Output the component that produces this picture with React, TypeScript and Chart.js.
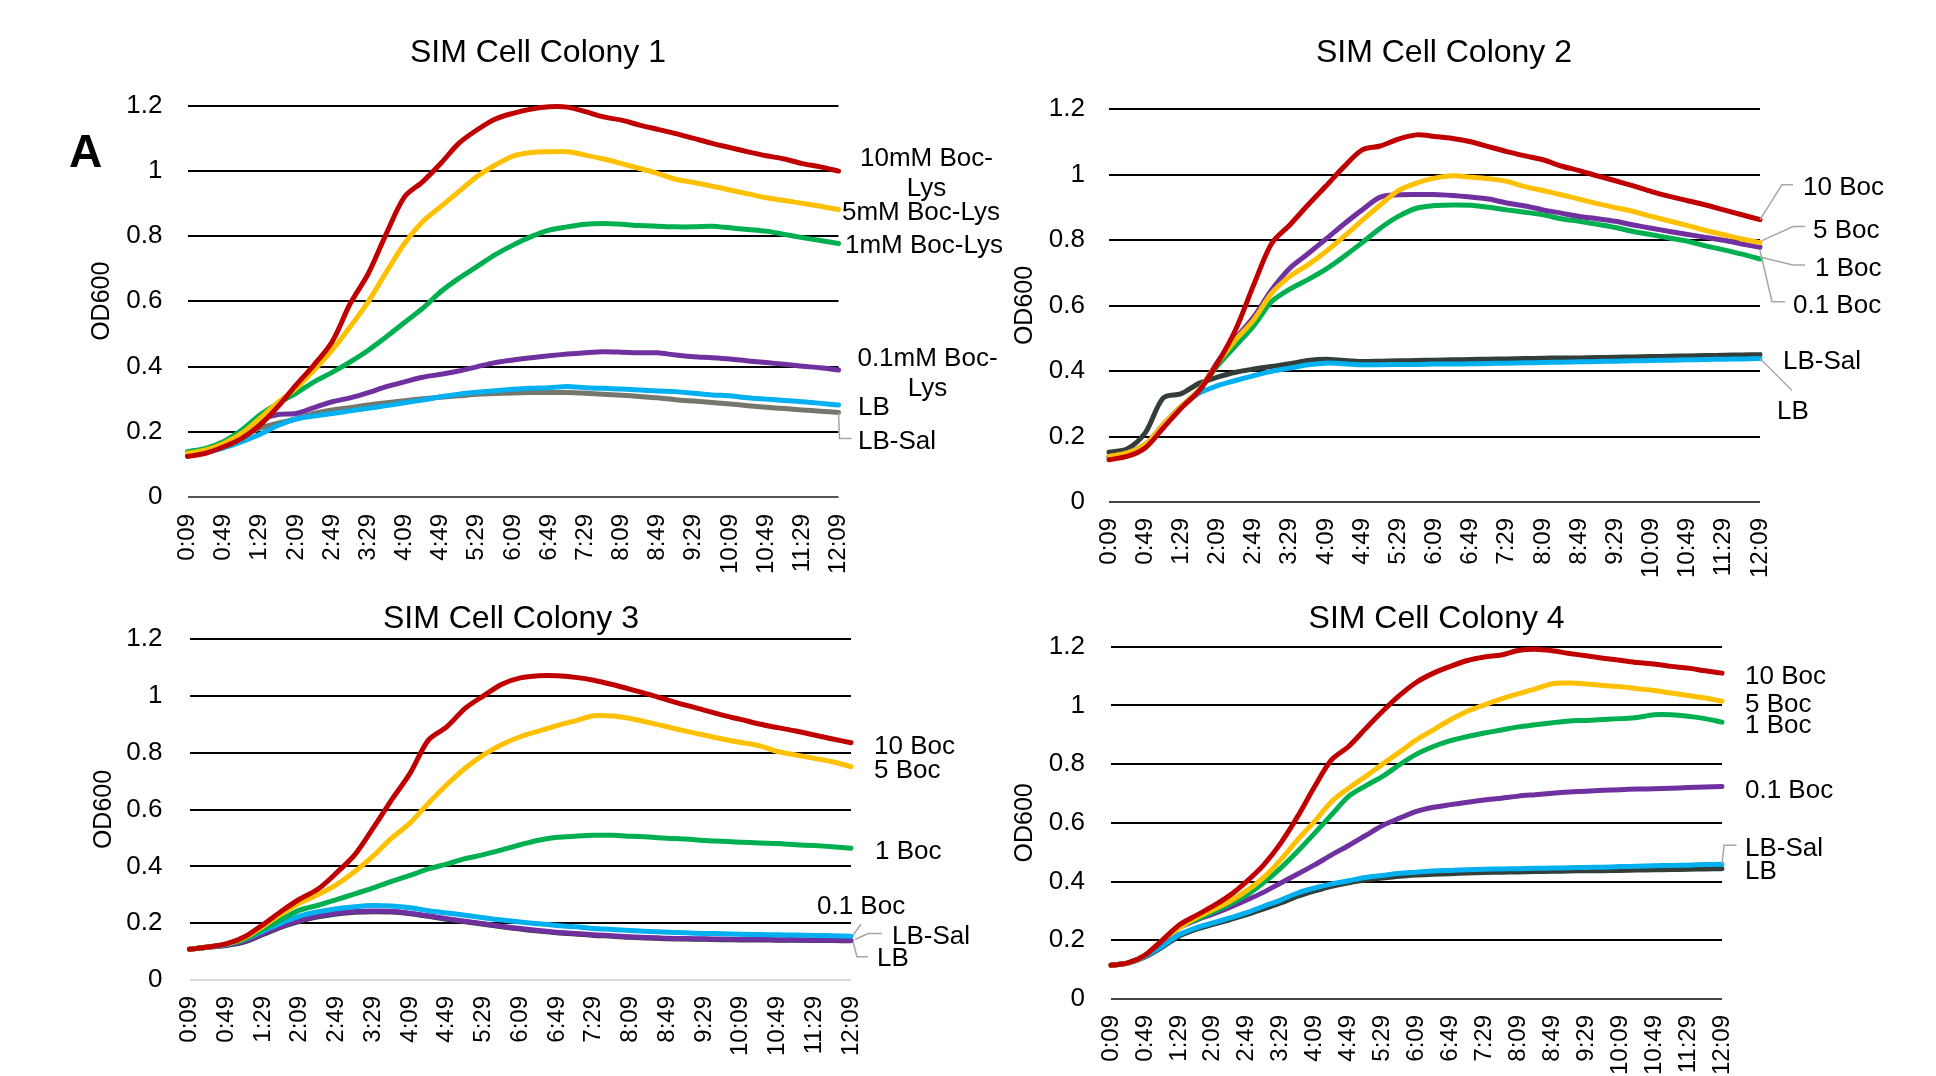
import React, { useEffect, useRef } from "react";
import { Chart, registerables } from "chart.js";

Chart.register(...registerables);

const FONT = "'Liberation Sans', Arial, sans-serif";

// time points every 20 min (labels shown every 40 min)
const TIME_LABELS = [
  "0:09", "0:29", "0:49", "1:09", "1:29", "1:49", "2:09", "2:29", "2:49", "3:09",
  "3:29", "3:49", "4:09", "4:29", "4:49", "5:09", "5:29", "5:49", "6:09", "6:29",
  "6:49", "7:09", "7:29", "7:49", "8:09", "8:29", "8:49", "9:09", "9:29", "9:49",
  "10:09", "10:29", "10:49", "11:09", "11:29", "11:49", "12:09",
];

const Y_MIN = 0;
const Y_MAX = 1.2;
const Y_STEP = 0.2;

// ---------- SIM Cell Colony 1 ----------
const C1_10MM = [0.124,0.134,0.154,0.180,0.220,0.277,0.343,0.405,0.476,0.593,0.685,0.808,0.920,0.966,1.022,1.084,1.125,1.158,1.176,1.189,1.196,1.195,1.181,1.165,1.155,1.140,1.127,1.114,1.099,1.084,1.071,1.058,1.046,1.036,1.022,1.012,0.999];
const C1_5MM = [0.134,0.144,0.164,0.195,0.241,0.290,0.333,0.389,0.450,0.522,0.599,0.690,0.777,0.844,0.890,0.936,0.982,1.017,1.045,1.056,1.058,1.058,1.048,1.036,1.022,1.007,0.992,0.974,0.964,0.953,0.941,0.929,0.917,0.909,0.900,0.891,0.881];
const C1_1MM = [0.139,0.149,0.170,0.205,0.251,0.287,0.318,0.353,0.382,0.414,0.450,0.491,0.535,0.578,0.629,0.670,0.706,0.742,0.772,0.798,0.818,0.828,0.836,0.838,0.836,0.832,0.830,0.828,0.828,0.830,0.825,0.820,0.815,0.805,0.795,0.786,0.777];
const C1_01MM = [0.131,0.141,0.164,0.200,0.236,0.253,0.256,0.274,0.292,0.304,0.320,0.338,0.353,0.367,0.376,0.386,0.399,0.412,0.420,0.427,0.433,0.438,0.442,0.445,0.444,0.442,0.442,0.435,0.430,0.427,0.423,0.417,0.412,0.407,0.401,0.396,0.389];
const C1_LB = [0.129,0.137,0.151,0.170,0.192,0.219,0.239,0.248,0.256,0.264,0.272,0.280,0.289,0.297,0.307,0.315,0.321,0.326,0.330,0.333,0.335,0.339,0.335,0.333,0.331,0.328,0.325,0.323,0.318,0.313,0.310,0.304,0.300,0.296,0.292,0.287,0.282];
const C1_LBSAL = [0.129,0.139,0.159,0.185,0.211,0.226,0.239,0.256,0.267,0.274,0.282,0.289,0.295,0.301,0.306,0.310,0.315,0.317,0.319,0.320,0.320,0.320,0.318,0.315,0.312,0.308,0.304,0.298,0.294,0.290,0.285,0.280,0.275,0.271,0.267,0.263,0.259];

// ---------- SIM Cell Colony 2 ----------
const C2_10 = [0.129,0.139,0.165,0.226,0.287,0.341,0.424,0.526,0.663,0.790,0.846,0.907,0.965,1.024,1.075,1.087,1.108,1.121,1.116,1.110,1.100,1.085,1.070,1.057,1.045,1.026,1.012,0.996,0.981,0.965,0.948,0.933,0.920,0.907,0.892,0.877,0.862];
const C2_5 = [0.139,0.150,0.175,0.236,0.292,0.343,0.424,0.495,0.556,0.638,0.689,0.724,0.765,0.811,0.860,0.907,0.951,0.974,0.989,0.996,0.992,0.987,0.979,0.963,0.951,0.938,0.925,0.911,0.899,0.887,0.872,0.858,0.844,0.829,0.816,0.803,0.792];
const C2_01 = [0.139,0.150,0.175,0.236,0.292,0.343,0.428,0.500,0.565,0.648,0.714,0.758,0.803,0.849,0.892,0.931,0.938,0.939,0.939,0.936,0.931,0.925,0.913,0.904,0.892,0.882,0.872,0.865,0.857,0.846,0.836,0.826,0.817,0.808,0.799,0.788,0.778];
const C2_1 = [0.137,0.150,0.175,0.233,0.290,0.343,0.416,0.477,0.538,0.612,0.650,0.679,0.711,0.750,0.792,0.836,0.872,0.897,0.905,0.907,0.906,0.900,0.892,0.885,0.877,0.865,0.857,0.848,0.838,0.826,0.816,0.806,0.796,0.782,0.770,0.757,0.742];
const C2_LB = [0.137,0.148,0.170,0.236,0.290,0.333,0.355,0.371,0.386,0.399,0.409,0.419,0.424,0.422,0.419,0.419,0.420,0.420,0.421,0.421,0.422,0.423,0.424,0.425,0.426,0.427,0.428,0.429,0.430,0.431,0.432,0.433,0.434,0.435,0.436,0.437,0.438];
const C2_LBSAL = [0.152,0.162,0.211,0.318,0.331,0.363,0.381,0.396,0.406,0.414,0.422,0.432,0.436,0.432,0.429,0.430,0.431,0.432,0.433,0.434,0.435,0.436,0.437,0.438,0.439,0.440,0.440,0.441,0.442,0.443,0.444,0.445,0.446,0.447,0.448,0.449,0.450];

// ---------- SIM Cell Colony 3 ----------
const C3_10 = [0.108,0.116,0.127,0.152,0.195,0.242,0.285,0.320,0.377,0.441,0.535,0.634,0.727,0.844,0.891,0.956,1.000,1.041,1.063,1.071,1.071,1.065,1.055,1.040,1.023,1.005,0.986,0.967,0.950,0.932,0.917,0.901,0.888,0.876,0.862,0.848,0.835];
const C3_5 = [0.108,0.116,0.127,0.149,0.189,0.233,0.271,0.301,0.336,0.382,0.437,0.499,0.552,0.622,0.687,0.745,0.792,0.829,0.856,0.876,0.895,0.912,0.930,0.929,0.920,0.906,0.891,0.876,0.862,0.848,0.836,0.825,0.804,0.792,0.780,0.768,0.751];
const C3_1 = [0.108,0.116,0.127,0.143,0.178,0.213,0.246,0.263,0.283,0.303,0.324,0.347,0.368,0.391,0.408,0.427,0.441,0.458,0.476,0.492,0.502,0.506,0.509,0.509,0.506,0.503,0.499,0.496,0.491,0.488,0.485,0.482,0.480,0.476,0.473,0.469,0.464];
const C3_01 = [0.108,0.116,0.125,0.143,0.172,0.201,0.225,0.240,0.251,0.258,0.262,0.260,0.254,0.244,0.236,0.228,0.219,0.211,0.204,0.198,0.192,0.187,0.181,0.178,0.174,0.171,0.168,0.166,0.164,0.163,0.161,0.160,0.159,0.158,0.157,0.156,0.154];
const C3_LBSAL = [0.108,0.116,0.123,0.137,0.163,0.189,0.209,0.225,0.235,0.241,0.243,0.242,0.235,0.226,0.216,0.207,0.198,0.189,0.181,0.174,0.168,0.164,0.159,0.156,0.152,0.150,0.147,0.146,0.145,0.144,0.143,0.143,0.142,0.142,0.140,0.140,0.139];
const C3_LB = [0.108,0.115,0.121,0.134,0.160,0.186,0.206,0.222,0.232,0.238,0.240,0.239,0.233,0.224,0.214,0.205,0.196,0.187,0.179,0.172,0.166,0.162,0.157,0.154,0.150,0.148,0.145,0.144,0.143,0.142,0.141,0.141,0.140,0.140,0.139,0.139,0.138];

// ---------- SIM Cell Colony 4 ----------
const C4_10 = [0.115,0.123,0.149,0.199,0.251,0.284,0.316,0.353,0.401,0.457,0.531,0.622,0.724,0.815,0.860,0.921,0.980,1.034,1.079,1.110,1.133,1.153,1.165,1.172,1.187,1.191,1.186,1.177,1.169,1.161,1.154,1.146,1.141,1.133,1.127,1.118,1.110];
const C4_5 = [0.115,0.123,0.149,0.199,0.242,0.276,0.304,0.333,0.369,0.414,0.474,0.543,0.605,0.673,0.718,0.758,0.800,0.841,0.883,0.917,0.951,0.980,1.002,1.022,1.040,1.056,1.074,1.076,1.073,1.068,1.064,1.057,1.051,1.042,1.034,1.025,1.014];
const C4_1 = [0.115,0.123,0.149,0.199,0.244,0.270,0.296,0.323,0.355,0.397,0.446,0.503,0.565,0.628,0.690,0.726,0.758,0.798,0.834,0.860,0.880,0.894,0.906,0.916,0.927,0.934,0.941,0.947,0.949,0.952,0.955,0.959,0.968,0.968,0.963,0.955,0.943];
const C4_01 = [0.115,0.123,0.149,0.196,0.242,0.268,0.289,0.312,0.337,0.364,0.395,0.426,0.457,0.491,0.523,0.557,0.591,0.616,0.639,0.653,0.662,0.670,0.678,0.684,0.691,0.696,0.701,0.705,0.708,0.711,0.713,0.715,0.716,0.718,0.720,0.722,0.724];
const C4_LBSAL = [0.115,0.123,0.145,0.179,0.219,0.242,0.259,0.276,0.294,0.316,0.337,0.361,0.378,0.392,0.403,0.414,0.421,0.428,0.432,0.436,0.438,0.440,0.442,0.443,0.444,0.445,0.446,0.447,0.448,0.449,0.451,0.452,0.454,0.455,0.456,0.458,0.459];
const C4_LB = [0.115,0.122,0.143,0.176,0.214,0.237,0.254,0.270,0.287,0.307,0.327,0.350,0.368,0.384,0.396,0.405,0.412,0.418,0.422,0.425,0.427,0.429,0.431,0.432,0.433,0.434,0.435,0.436,0.437,0.437,0.438,0.439,0.440,0.441,0.442,0.443,0.444];

const RED = "#C00000";
const YELLOW = "#FFC000";
const GREEN = "#00B050";
const PURPLE = "#7030A0";
const BLUE = "#00B0F0";
const GRAY = "#75766C";
const DARK = "#343E38";
const LEADER = "#A6A6A6";

type Label = {
  lines: [string, number][];
  dx: number;
  align?: "left" | "center";
  leader?: [number, number][];
};
type Series = { name: string; data: number[]; color: string; label: Label };
type Txt = { text: string; x: number; y: number; size: number; bold?: boolean; align?: "left" | "center" };

type Spec = {
  left: number; top: number; w: number; h: number;
  pad: { left: number; right: number; top: number; bottom: number };
  yw: number; xh: number; yTickPad: number; xTickPad: number; yTitlePad: number;
  zeroColor: string;
  series: Series[];
  texts: Txt[];
};

const SPECS: Spec[] = [
  {
    left: 0, top: 0, w: 1010, h: 580,
    pad: { left: 80, right: 171.5, top: 105.5, bottom: 0 },
    yw: 107.5, xh: 83, yTickPad: 25, xTickPad: 17, yTitlePad: 7, zeroColor: "#555",
    series: [
      { name: "10mM Boc-Lys", data: C1_10MM, color: RED, label: { lines: [["10mM Boc-", -14], ["Lys", 16]], dx: 88, align: "center" } },
      { name: "5mM Boc-Lys", data: C1_5MM, color: YELLOW, label: { lines: [["5mM Boc-Lys", 1.4]], dx: 3.5 } },
      { name: "1mM Boc-Lys", data: C1_1MM, color: GREEN, label: { lines: [["1mM Boc-Lys", 0.5]], dx: 6.5 } },
      { name: "0.1mM Boc-Lys", data: C1_01MM, color: PURPLE, label: { lines: [["0.1mM Boc-", -13], ["Lys", 16.5]], dx: 89, align: "center" } },
      { name: "LB", data: C1_LB, color: BLUE, label: { lines: [["LB", 1]], dx: 19.5 } },
      { name: "LB-Sal", data: C1_LBSAL, color: GRAY, label: { lines: [["LB-Sal", 27.5]], dx: 19.5, leader: [[0, 0], [1, 26], [13, 26]] } },
    ],
    texts: [
      { text: "SIM Cell Colony 1", x: 538, y: 61.5, size: 32, align: "center" },
      { text: "A", x: 69, y: 166.5, size: 46, bold: true },
    ],
  },
  {
    left: 960, top: 0, w: 976, h: 580,
    pad: { left: 50, right: 176, top: 109, bottom: 0 },
    yw: 99, xh: 78, yTickPad: 24, xTickPad: 16, yTitlePad: 0.5, zeroColor: "#444",
    series: [
      { name: "10 Boc", data: C2_10, color: RED, label: { lines: [["10 Boc", -34]], dx: 43, leader: [[0, 0], [22, -35], [33, -35]] } },
      { name: "5 Boc", data: C2_5, color: YELLOW, label: { lines: [["5 Boc", -13.6]], dx: 53, leader: [[2, -2], [33, -16], [45, -16]] } },
      { name: "0.1 Boc", data: C2_01, color: PURPLE, label: { lines: [["0.1 Boc", 56]], dx: 33, leader: [[0, 3], [12, 54.5], [25, 54.5]] } },
      { name: "1 Boc", data: C2_1, color: GREEN, label: { lines: [["1 Boc", 7.7]], dx: 55, leader: [[0, -2], [33, 6], [45, 6]] } },
      { name: "LB", data: C2_LB, color: BLUE, label: { lines: [["LB", 51.4]], dx: 17, leader: [[0, 0], [32, 32]] } },
      { name: "LB-Sal", data: C2_LBSAL, color: DARK, label: { lines: [["LB-Sal", 5.4]], dx: 23 } },
    ],
    texts: [{ text: "SIM Cell Colony 2", x: 484, y: 61.5, size: 32, align: "center" }],
  },
  {
    left: 0, top: 580, w: 1010, h: 496,
    pad: { left: 80, right: 159, top: 59, bottom: 0 },
    yw: 109.5, xh: 96, yTickPad: 27, xTickPad: 16, yTitlePad: 9, zeroColor: "#D9D9D9",
    series: [
      { name: "10 Boc", data: C3_10, color: RED, label: { lines: [["10 Boc", 2]], dx: 23 } },
      { name: "5 Boc", data: C3_5, color: YELLOW, label: { lines: [["5 Boc", 2]], dx: 23 } },
      { name: "1 Boc", data: C3_1, color: GREEN, label: { lines: [["1 Boc", 2]], dx: 24 } },
      { name: "0.1 Boc", data: C3_01, color: BLUE, label: { lines: [["0.1 Boc", -32]], dx: -34, leader: [[2, -1], [10, -12]] } },
      { name: "LB-Sal", data: C3_LBSAL, color: PURPLE, label: { lines: [["LB-Sal", -5.5]], dx: 41, leader: [[4, -1], [17, -7], [31, -7]] } },
      { name: "LB", data: C3_LB, color: DARK, label: { lines: [["LB", 16]], dx: 26, leader: [[2, 1], [6, 16], [17, 16]] } },
    ],
    texts: [{ text: "SIM Cell Colony 3", x: 511, y: 48.3, size: 32, align: "center" }],
  },
  {
    left: 960, top: 580, w: 976, h: 496,
    pad: { left: 50, right: 214, top: 66.7, bottom: 0 },
    yw: 101, xh: 77, yTickPad: 26, xTickPad: 16, yTitlePad: 0.5, zeroColor: "#444",
    series: [
      { name: "10 Boc", data: C4_10, color: RED, label: { lines: [["10 Boc", 2]], dx: 23 } },
      { name: "5 Boc", data: C4_5, color: YELLOW, label: { lines: [["5 Boc", 1.4]], dx: 23 } },
      { name: "1 Boc", data: C4_1, color: GREEN, label: { lines: [["1 Boc", 2]], dx: 23 } },
      { name: "0.1 Boc", data: C4_01, color: PURPLE, label: { lines: [["0.1 Boc", 2]], dx: 23 } },
      { name: "LB-Sal", data: C4_LBSAL, color: BLUE, label: { lines: [["LB-Sal", -18]], dx: 23, leader: [[0, 0], [2, -19], [14.6, -19]] } },
      { name: "LB", data: C4_LB, color: DARK, label: { lines: [["LB", 1]], dx: 23 } },
    ],
    texts: [{ text: "SIM Cell Colony 4", x: 476.6, y: 48.3, size: 32, align: "center" }],
  },
];

function makeAnnotatePlugin(spec: Spec) {
  return {
    id: "annotate",
    afterDatasetsDraw(chart: any) {
      const ctx = chart.ctx as CanvasRenderingContext2D;
      ctx.save();
      ctx.textBaseline = "alphabetic";
      ctx.fillStyle = "#000";
      spec.series.forEach((s, i) => {
        const meta = chart.getDatasetMeta(i);
        const pt = meta.data[meta.data.length - 1];
        if (!pt) return;
        const x = pt.x;
        const y = pt.y;
        const lab = s.label;
        if (lab.leader) {
          ctx.strokeStyle = LEADER;
          ctx.lineWidth = 1.5;
          ctx.beginPath();
          lab.leader.forEach(([lx, ly], k) => {
            if (k === 0) ctx.moveTo(x + lx, y + ly);
            else ctx.lineTo(x + lx, y + ly);
          });
          ctx.stroke();
        }
        ctx.font = `26px ${FONT}`;
        ctx.textAlign = lab.align === "center" ? "center" : "left";
        lab.lines.forEach(([t, dy]) => {
          ctx.fillText(t, x + lab.dx, y + dy + 26 * 0.358);
        });
      });
      spec.texts.forEach((t) => {
        ctx.font = `${t.bold ? "bold " : ""}${t.size}px ${FONT}`;
        ctx.textAlign = t.align === "center" ? "center" : "left";
        ctx.fillText(t.text, t.x, t.y);
      });
      ctx.restore();
    },
  };
}

function ColonyChart({ spec }: { spec: Spec }) {
  const ref = useRef<HTMLCanvasElement>(null);
  useEffect(() => {
    if (!ref.current) return;
    const chart = new Chart(ref.current, {
      type: "line",
      data: {
        labels: TIME_LABELS,
        datasets: spec.series.map((s) => ({
          label: s.name,
          data: s.data,
          borderColor: s.color,
          backgroundColor: s.color,
          borderWidth: 5,
          pointRadius: 0,
          pointHoverRadius: 0,
          tension: 0.3,
          fill: false,
          borderCapStyle: "round",
          borderJoinStyle: "round",
          clip: 12,
        })),
      },
      options: {
        responsive: false,
        animation: false,
        events: [],
        layout: { padding: spec.pad },
        plugins: { legend: { display: false }, tooltip: { enabled: false }, title: { display: false } },
        scales: {
          x: {
            type: "category",
            offset: false,
            grid: { display: false, drawTicks: false },
            border: { display: false },
            ticks: {
              autoSkip: false,
              minRotation: 90,
              maxRotation: 90,
              padding: spec.xTickPad,
              color: "#000",
              font: { family: FONT, size: 24 },
              callback: function (this: any, value: any, index: number) {
                return index % 2 === 0 ? this.getLabelForValue(value) : "";
              },
            },
            afterFit: (scale: any) => {
              scale.height = spec.xh;
              scale.paddingLeft = 0;
              scale.paddingRight = 0;
            },
          },
          y: {
            min: Y_MIN,
            max: Y_MAX,
            border: { display: false },
            grid: {
              drawTicks: false,
              lineWidth: 2,
              color: (c: any) => (c.tick && Math.abs(c.tick.value) < 1e-9 ? spec.zeroColor : "#000"),
            },
            ticks: {
              stepSize: Y_STEP,
              padding: spec.yTickPad,
              color: "#000",
              font: { family: FONT, size: 26 },
              callback: (v: any) => String(Math.round(Number(v) * 10) / 10),
            },
            title: {
              display: true,
              text: "OD600",
              color: "#000",
              font: { family: FONT, size: 25 },
              padding: { top: spec.yTitlePad, bottom: 0 },
            },
            afterFit: (scale: any) => {
              scale.width = spec.yw;
              scale.paddingTop = 0;
              scale.paddingBottom = 0;
            },
          },
        },
      },
      plugins: [makeAnnotatePlugin(spec)],
    } as any);
    return () => chart.destroy();
  }, [spec]);
  return (
    <canvas
      ref={ref}
      width={spec.w}
      height={spec.h}
      style={{ position: "absolute", left: spec.left, top: spec.top, width: spec.w, height: spec.h }}
    />
  );
}

export default function App() {
  return (
    <div
      style={{
        position: "absolute",
        left: 0,
        top: 0,
        width: 1936,
        height: 1076,
        background: "#fff",
        overflow: "hidden",
      }}
    >
      {SPECS.map((s, i) => (
        <ColonyChart key={i} spec={s} />
      ))}
    </div>
  );
}
